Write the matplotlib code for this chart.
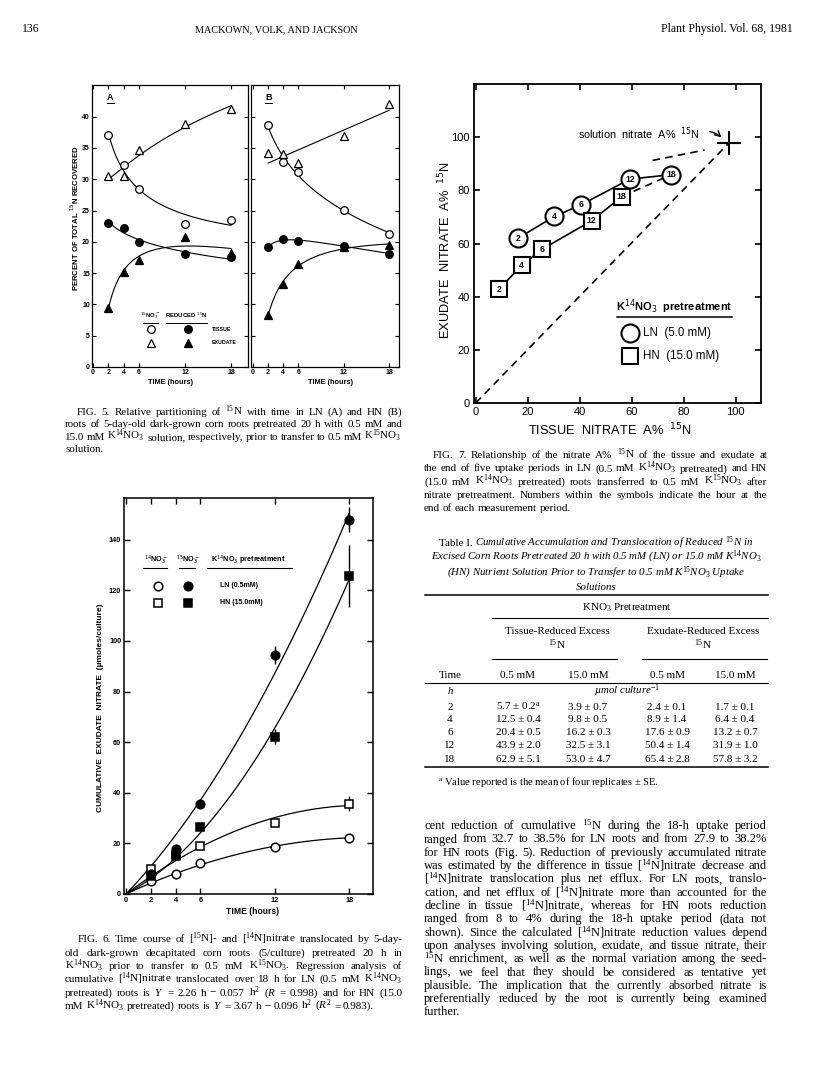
import numpy as np
import matplotlib
matplotlib.use('Agg')
import matplotlib.pyplot as plt
from matplotlib.lines import Line2D

W, H, DPI = 816, 1073, 100
plt.rcParams['mathtext.fontset'] = 'custom'
plt.rcParams['mathtext.rm'] = 'Liberation Serif'
plt.rcParams['mathtext.it'] = 'Liberation Serif:italic'
plt.rcParams['mathtext.bf'] = 'Liberation Serif:bold'
plt.rcParams['mathtext.sf'] = 'Liberation Sans'
plt.rcParams['font.family'] = ['Liberation Sans', 'DejaVu Sans']
SERIF = 'Liberation Serif'
SANS = 'Liberation Sans'

# ---------------- data: Fig. 5 (percent of total 15N recovered) ----------------
time_h = [2, 4, 6, 12, 18]
a_no3_tissue = [37.0, 32.3, 28.4, 22.9, 23.5]
a_no3_exudate = [30.5, 30.5, 34.7, 38.9, 41.3]
a_red_tissue = [23.0, 22.2, 19.9, 18.0, 17.5]
a_red_exudate = [9.5, 15.2, 17.1, 20.7, 18.2]
b_no3_tissue = [38.6, 32.8, 31.2, 25.1, 21.3]
b_no3_exudate = [34.2, 34.0, 32.6, 36.9, 42.1]
b_red_tissue = [19.2, 20.4, 20.1, 19.4, 18.1]
b_red_exudate = [8.3, 13.3, 16.4, 19.1, 19.5]
fig5_xticks = [0, 2, 4, 6, 12, 18]
fig5_yticks = [0, 5, 10, 15, 20, 25, 30, 35, 40]

# ---------------- data: Fig. 6 (cumulative exudate nitrate) ----------------
ln_14no3 = [5.0, 8.0, 12.2, 18.6, 22.2]
hn_14no3 = [10.0, 15.0, 19.0, 28.2, 35.7]
hn_14no3_err = [0, 0, 0, 0, 3.0]
ln_15no3 = [8.0, 17.8, 35.5, 94.5, 148.0]
ln_15no3_err = [0, 1.5, 0, 3.5, 5.0]
hn_15no3 = [7.0, 15.5, 26.3, 62.2, 125.8]
hn_15no3_err = [0, 1.5, 0, 3.0, 12.2]
ln_14_coef = [2.26, -0.057]   # Y = 2.26 h - 0.057 h^2
hn_14_coef = [3.67, -0.096]   # Y = 3.67 h - 0.096 h^2
fig6_xticks = [0, 2, 4, 6, 12, 18]
fig6_yticks = [0, 20, 40, 60, 80, 100, 120, 140]

# ---------------- data: Fig. 7 (nitrate A% 15N) ----------------
ln_tissue_a = [16.2, 30.3, 40.5, 59.4, 75.1]
ln_exudate_a = [62.0, 70.2, 74.6, 84.3, 85.9]
hn_tissue_a = [9.0, 17.7, 25.6, 44.6, 56.2]
hn_exudate_a = [42.9, 51.8, 57.9, 68.6, 77.7]
solution_a = [97.5, 98.0]
ln_extrap_x = [68.0, 88.0]
ln_extrap_y = [91.3, 95.2]
fig7_ticks = [0, 20, 40, 60, 80, 100]

# ---------------- data: Table I ----------------
table_time = [2, 4, 6, 12, 18]
tissue_05 = [5.7, 12.5, 20.4, 43.9, 62.9]
tissue_05_se = [0.2, 0.4, 0.5, 2.0, 5.1]
tissue_15 = [3.9, 9.8, 16.2, 32.5, 53.0]
tissue_15_se = [0.7, 0.5, 0.3, 3.1, 4.7]
exud_05 = [2.4, 8.9, 17.6, 50.4, 65.4]
exud_05_se = [0.1, 1.4, 0.9, 1.4, 2.8]
exud_15 = [1.7, 6.4, 13.2, 31.9, 57.8]
exud_15_se = [0.1, 0.4, 0.7, 1.0, 3.2]

# ============================================================
fig = plt.figure(figsize=(W / DPI, H / DPI), dpi=DPI)
fig.patch.set_facecolor('white')
R = fig.canvas.get_renderer()


def rect(l, t, r, b):
    return [l / W, 1 - b / H, (r - l) / W, (b - t) / H]


def put(x, y, s, **kw):
    return fig.text(x / W, 1 - y / H, s, **kw)


def tw(s, **kw):
    t = fig.text(0, 0, s, **kw)
    w = t.get_window_extent(renderer=R).width
    t.remove()
    return w


def para(lines, x_first, x_left, x_right, y0, dy, size, justify_last=False):
    kw = dict(fontsize=size, family=SERIF)
    sp = tw('x x', **kw) - tw('xx', **kw)
    for i, line in enumerate(lines):
        x0 = x_first if i == 0 else x_left
        y = y0 + i * dy + 3.2
        words = line.split(' ')
        widths = [tw(w, **kw) for w in words]
        last = (i == len(lines) - 1) and not justify_last
        if last or len(words) == 1:
            gap = sp
        else:
            gap = (x_right - x0 - sum(widths)) / (len(words) - 1)
        x = x0
        for w, wd in zip(words, widths):
            put(x, y, w, ha='left', va='baseline', **kw)
            x += wd + gap


def style_ticks(ax, size, weight='bold'):
    for lab in ax.get_xticklabels() + ax.get_yticklabels():
        lab.set_fontsize(size)
        lab.set_fontweight(weight)
        lab.set_family(SANS)


def ln_fit(t, y, deg=2):
    t = np.asarray(t, float)
    p = np.polyfit(np.log(t), y, deg)
    tt = np.linspace(t.min(), t.max(), 200)
    return tt, np.polyval(p, np.log(tt))


def lin_fit(t, y):
    t = np.asarray(t, float)
    p = np.polyfit(t, y, 1)
    tt = np.linspace(t.min(), t.max(), 50)
    return tt, np.polyval(p, tt)


# ---------------- header ----------------
put(22, 32, '136', fontsize=8.5, family=SERIF, va='baseline')
put(195, 32, 'MACKOWN, VOLK, AND JACKSON', fontsize=7.4, family=SERIF, va='baseline')
put(793, 32, 'Plant Physiol. Vol. 68, 1981', fontsize=8.5, family=SERIF, va='baseline', ha='right')

# ---------------- Fig. 5 ----------------
mk = dict(ms=5.5, mec='black', mew=0.9, ls='none', zorder=5)


def fig5_panel(r, xlim, nt, ne, rt, re, exud_linear, letter, ylabels):
    ax = fig.add_axes(r)
    ax.set_xlim(*xlim)
    ax.set_ylim(0, 45.06)
    ax.set_xticks(fig5_xticks)
    ax.set_yticks(fig5_yticks)
    ax.tick_params(direction='in', length=3, width=0.8, top=True, right=True, pad=1.5)
    if not ylabels:
        ax.set_yticklabels([])
    style_ticks(ax, 5.0)
    for s in ax.spines.values():
        s.set_linewidth(0.9)
    lw = 0.8
    ax.plot(*ln_fit(time_h, nt), color='k', lw=lw)
    if exud_linear:
        ax.plot(*lin_fit(time_h, ne), color='k', lw=lw)
    else:
        ax.plot(*ln_fit(time_h, ne), color='k', lw=lw)
    ax.plot(*ln_fit(time_h, rt), color='k', lw=lw)
    ax.plot(*ln_fit(time_h, re), color='k', lw=lw)
    ax.plot(time_h, nt, marker='o', mfc='white', **mk)
    ax.plot(time_h, ne, marker='^', mfc='white', **mk)
    ax.plot(time_h, rt, marker='o', mfc='black', **mk)
    ax.plot(time_h, re, marker='^', mfc='black', **mk)
    ax.text(0.118, 0.955, letter, transform=ax.transAxes, ha='center', va='center',
            fontsize=6.5, fontweight='bold')
    ax.plot([0.095, 0.14], [0.936, 0.936], transform=ax.transAxes, color='k', lw=0.7)
    return ax


axA = fig5_panel(rect(92, 85, 248, 367), (-0.13, 20.2), a_no3_tissue, a_no3_exudate,
                 a_red_tissue, a_red_exudate, False, 'A', True)
axB = fig5_panel(rect(251, 85, 399, 367), (-0.26, 19.3), b_no3_tissue, b_no3_exudate,
                 b_red_tissue, b_red_exudate, True, 'B', False)

# legend in panel A
T = axA.transAxes
axA.text(0.372, 0.184, r'$^{15}$NO$_3^-$', transform=T, ha='center', va='center',
         fontsize=4.3, fontweight='bold', math_fontfamily='dejavusans')
axA.text(0.607, 0.184, r'REDUCED $^{15}$N', transform=T, ha='center', va='center',
         fontsize=4.3, fontweight='bold', math_fontfamily='dejavusans')
axA.plot([0.327, 0.423], [0.155, 0.155], transform=T, color='k', lw=0.7)
axA.plot([0.474, 0.737], [0.155, 0.155], transform=T, color='k', lw=0.7)
axA.plot([0.376], [0.134], transform=T, marker='o', mfc='white', **mk)
axA.plot([0.613], [0.134], transform=T, marker='o', mfc='black', **mk)
axA.plot([0.376], [0.086], transform=T, marker='^', mfc='white', **mk)
axA.plot([0.613], [0.086], transform=T, marker='^', mfc='black', **mk)
axA.text(0.767, 0.134, 'TISSUE', transform=T, va='center', fontsize=3.8, fontweight='bold')
axA.text(0.767, 0.086, 'EXUDATE', transform=T, va='center', fontsize=3.8, fontweight='bold')

put(75, 218, r'PERCENT OF TOTAL $^{15}$N RECOVERED', rotation=90, ha='center', va='center',
    fontsize=5.6, fontweight='bold', math_fontfamily='dejavusans')
put(170, 382, 'TIME (hours)', ha='center', va='center', fontsize=5.3, fontweight='bold')
put(330, 382, 'TIME (hours)', ha='center', va='center', fontsize=5.3, fontweight='bold')

para(['FIG. 5. Relative partitioning of $^{15}$N with time in LN (A) and HN (B)',
      'roots of 5-day-old dark-grown corn roots pretreated 20 h with 0.5 mM and',
      '15.0 mM K$^{14}$NO$_3$ solution, respectively, prior to transfer to 0.5 mM K$^{15}$NO$_3$',
      'solution.'], 77, 65, 402, 412, 12.3, 7.9)

# ---------------- Fig. 6 ----------------
ax6 = fig.add_axes(rect(124, 498, 373, 894))
ax6.set_xlim(-0.16, 19.9)
ax6.set_ylim(0, 156.5)
ax6.set_xticks(fig6_xticks)
ax6.set_yticks(fig6_yticks)
ax6.tick_params(direction='in', length=4, width=1.0, top=True, right=True, pad=2)
style_ticks(ax6, 5.3)
for s in ax6.spines.values():
    s.set_linewidth(1.1)

th = np.asarray(time_h, float)
tt = np.linspace(0, 18, 200)
ax6.plot(tt, ln_14_coef[0] * tt + ln_14_coef[1] * tt ** 2, color='k', lw=0.9)
ax6.plot(tt, hn_14_coef[0] * tt + hn_14_coef[1] * tt ** 2, color='k', lw=0.9)
A2 = np.column_stack([th, th ** 2])
c_ln15 = np.linalg.lstsq(A2, np.asarray(ln_15no3), rcond=None)[0]
c_hn15 = np.linalg.lstsq(A2, np.asarray(hn_15no3), rcond=None)[0]
ax6.plot(tt, c_ln15[0] * tt + c_ln15[1] * tt ** 2, color='k', lw=0.9)
ax6.plot(tt, c_hn15[0] * tt + c_hn15[1] * tt ** 2, color='k', lw=0.9)

mk6 = dict(ms=6.2, mec='black', mew=1.1, ls='none', zorder=5, ecolor='black', elinewidth=1.0, capsize=0)
ax6.errorbar(time_h, ln_14no3, marker='o', mfc='white', **mk6)
ax6.errorbar(time_h, hn_14no3, yerr=hn_14no3_err, marker='s', mfc='white', **mk6)
ax6.errorbar(time_h, hn_15no3, yerr=hn_15no3_err, marker='s', mfc='black', **mk6)
ax6.errorbar(time_h, ln_15no3, yerr=ln_15no3_err, marker='o', mfc='black', **mk6)

T6 = ax6.transAxes
mk6l = dict(ms=6.2, mec='black', mew=1.1, ls='none', transform=T6)
ax6.text(0.129, 0.843, r'$^{14}$NO$_3^-$', transform=T6, ha='center', va='center',
         fontsize=5.2, fontweight='bold', math_fontfamily='dejavusans')
ax6.text(0.257, 0.843, r'$^{15}$NO$_3^-$', transform=T6, ha='center', va='center',
         fontsize=5.2, fontweight='bold', math_fontfamily='dejavusans')
ax6.text(0.5, 0.843, r'K$^{14}$NO$_3$ pretreatment', transform=T6, ha='center', va='center',
         fontsize=5.2, fontweight='bold', math_fontfamily='dejavusans')
for x0, x1 in [(0.076, 0.173), (0.221, 0.285), (0.333, 0.675)]:
    ax6.plot([x0, x1], [0.823, 0.823], transform=T6, color='k', lw=0.8)
ax6.plot([0.137], [0.778], marker='o', mfc='white', **mk6l)
ax6.plot([0.257], [0.778], marker='o', mfc='black', **mk6l)
ax6.plot([0.137], [0.735], marker='s', mfc='white', **mk6l)
ax6.plot([0.257], [0.735], marker='s', mfc='black', **mk6l)
ax6.text(0.386, 0.778, 'LN (0.5mM)', transform=T6, va='center', fontsize=5.0, fontweight='bold')
ax6.text(0.386, 0.735, 'HN (15.0mM)', transform=T6, va='center', fontsize=5.0, fontweight='bold')

put(101, 708, 'CUMULATIVE  EXUDATE  NITRATE  (µmoles/culture)', rotation=90, ha='center',
    va='center', fontsize=6.0, fontweight='bold')
put(252, 912, 'TIME (hours)', ha='center', va='center', fontsize=6.2, fontweight='bold')

para(['FIG. 6. Time course of [$^{15}$N]- and [$^{14}$N]nitrate translocated by 5-day-',
      'old dark-grown decapitated corn roots (5/culture) pretreated 20 h in',
      'K$^{14}$NO$_3$ prior to transfer to 0.5 mM K$^{15}$NO$_3$. Regression analysis of',
      'cumulative [$^{14}$N]nitrate translocated over 18 h for LN (0.5 mM K$^{14}$NO$_3$',
      r'pretreated) roots is $\mathit{Y}$ = 2.26 h − 0.057 h$^2$ ($\mathit{R}$ = 0.998) and for HN (15.0',
      r'mM K$^{14}$NO$_3$ pretreated) roots is $\mathit{Y}$ = 3.67 h − 0.096 h$^2$ ($\mathit{R}^2$ = 0.983).'],
     78, 65, 402, 939, 13.35, 8.0)

# ---------------- Fig. 7 ----------------
ax7 = fig.add_axes(rect(474, 84, 761, 403))
ax7.set_xlim(-0.65, 109.7)
ax7.set_ylim(0, 120.06)
ax7.set_xticks(fig7_ticks)
ax7.set_yticks(fig7_ticks)
ax7.tick_params(direction='in', length=4.5, width=1.2, top=True, right=True, pad=3)
style_ticks(ax7, 8.0, weight='normal')
for s in ax7.spines.values():
    s.set_linewidth(1.3)

dash = dict(color='k', lw=1.2, dashes=(4.5, 3.2))
ax7.plot([0, solution_a[0]], [0, solution_a[1]], **dash)
ax7.plot([hn_tissue_a[-1], ln_tissue_a[-1]], [hn_exudate_a[-1], ln_exudate_a[-1]], **dash)
ax7.plot(ln_extrap_x, ln_extrap_y, **dash)
ax7.plot(ln_tissue_a, ln_exudate_a, color='k', lw=1.2)
ax7.plot(hn_tissue_a, hn_exudate_a, color='k', lw=1.2)
ax7.plot(ln_tissue_a, ln_exudate_a, ls='none', marker='o', ms=13, mfc='white', mec='k', mew=1.5, zorder=5)
ax7.plot(hn_tissue_a, hn_exudate_a, ls='none', marker='s', ms=11.5, mfc='white', mec='k', mew=1.5, zorder=5)
for x, y, t in zip(ln_tissue_a, ln_exudate_a, time_h):
    ax7.text(x, y, str(t), ha='center', va='center', fontsize=6.3, fontweight='bold', zorder=6)
for x, y, t in zip(hn_tissue_a, hn_exudate_a, time_h):
    ax7.text(x, y, str(t), ha='center', va='center', fontsize=6.3, fontweight='bold', zorder=6)
ax7.plot([solution_a[0]], [solution_a[1]], marker='+', ms=17, mew=1.5, color='k', zorder=6)

T7 = ax7.transAxes
ax7.text(0.363, 0.845, r'solution  nitrate  A%  $^{15}$N', transform=T7, ha='left', va='center',
         fontsize=7.8, math_fontfamily='dejavusans')
ax7.annotate('', xy=(0.869, 0.826), xytext=(0.812, 0.852), xycoords=T7, textcoords=T7,
             arrowprops=dict(arrowstyle='->', lw=1.0, color='k', connectionstyle='arc3,rad=-0.2'))
ax7.text(0.698, 0.302, r'K$^{14}$NO$_3$  pretreatment', transform=T7, ha='center', va='center',
         fontsize=8.0, fontweight='bold', math_fontfamily='dejavusans')
ax7.plot([0.497, 0.898], [0.269, 0.269], transform=T7, color='k', lw=1.1)
ax7.plot([0.544], [0.218], transform=T7, marker='o', ms=13, mfc='white', mec='k', mew=1.5)
ax7.plot([0.544], [0.147], transform=T7, marker='s', ms=11.5, mfc='white', mec='k', mew=1.5)
ax7.text(0.59, 0.218, 'LN  (5.0 mM)', transform=T7, va='center', fontsize=8.3)
ax7.text(0.59, 0.147, 'HN  (15.0 mM)', transform=T7, va='center', fontsize=8.3)

put(445, 250, r'EXUDATE  NITRATE  A%  $^{15}$N', rotation=90, ha='center', va='center',
    fontsize=9.2, math_fontfamily='dejavusans')
put(610, 430, r'TISSUE  NITRATE  A%  $^{15}$N', ha='center', va='center',
    fontsize=9.2, math_fontfamily='dejavusans')

para(['FIG. 7. Relationship of the nitrate A% $^{15}$N of the tissue and exudate at',
      'the end of five uptake periods in LN (0.5 mM K$^{14}$NO$_3$ pretreated) and HN',
      '(15.0 mM K$^{14}$NO$_3$ pretreated) roots transferred to 0.5 mM K$^{15}$NO$_3$ after',
      'nitrate pretreatment. Numbers within the symbols indicate the hour at the',
      'end of each measurement period.'], 433, 424, 767, 455, 13.3, 8.0)

# ---------------- Table I ----------------
tkw = dict(fontsize=8.0, family=SERIF)
ikw = dict(fontsize=7.8, family=SERIF, fontstyle='italic')
cx = 596
w1 = tw('Table I. ', **tkw)
rest1 = 'Cumulative Accumulation and Translocation of Reduced $^{15}$N in'
w2 = tw(rest1, **ikw)
x0 = cx - (w1 + w2) / 2
put(x0, 546, 'Table I. ', ha='left', va='baseline', **tkw)
put(x0 + w1, 546, rest1, ha='left', va='baseline', **ikw)
put(cx, 560, 'Excised Corn Roots Pretreated 20 h with 0.5 mM (LN) or 15.0 mM K$^{14}$NO$_3$',
    ha='center', va='baseline', **ikw)
put(cx, 576, '(HN) Nutrient Solution Prior to Transfer to 0.5 mM K$^{15}$NO$_3$ Uptake',
    ha='center', va='baseline', **ikw)
put(cx, 590, 'Solutions', ha='center', va='baseline', **ikw)


def hline(y, x0, x1, lw=0.8):
    fig.add_artist(Line2D([x0 / W, x1 / W], [1 - y / H, 1 - y / H], color='k', lw=lw,
                          transform=fig.transFigure))


hline(595, 425, 768, 1.1)
put(627, 610, 'KNO$_3$ Pretreatment', ha='center', va='baseline', **tkw)
hline(618, 492, 768)
put(557, 634.5, 'Tissue-Reduced Excess', ha='center', va='baseline', **tkw)
put(557, 648.5, '$^{15}$N', ha='center', va='baseline', **tkw)
put(703, 634.5, 'Exudate-Reduced Excess', ha='center', va='baseline', **tkw)
put(703, 648.5, '$^{15}$N', ha='center', va='baseline', **tkw)
hline(659, 492, 617)
hline(659, 642, 767)
col_x = [450, 518, 588, 667, 735]
put(col_x[0], 678, 'Time', ha='center', va='baseline', **tkw)
for xc, lab in zip(col_x[1:], ['0.5 mM', '15.0 mM', '0.5 mM', '15.0 mM']):
    put(xc, 678, lab, ha='center', va='baseline', **tkw)
hline(683, 425, 768)
put(col_x[0], 694, 'h', ha='center', va='baseline', **ikw)
put(627, 694, 'µmol culture$^{-1}$', ha='center', va='baseline', **ikw)
row_y = [709.5, 722.5, 735, 748, 761.5]
for i, y in enumerate(row_y):
    put(col_x[0], y, str(table_time[i]), ha='center', va='baseline', **tkw)
    cols = [(tissue_05, tissue_05_se), (tissue_15, tissue_15_se),
            (exud_05, exud_05_se), (exud_15, exud_15_se)]
    for j, (m, se) in enumerate(cols):
        s = f'{m[i]:.1f} ± {se[i]:.1f}'
        if i == 0 and j == 0:
            s += r'$^{\mathrm{a}}$'
        put(col_x[j + 1], y, s, ha='center', va='baseline', **tkw)
hline(767, 425, 768, 1.1)
put(438, 785, r'$^{\mathrm{a}}$ Value reported is the mean of four replicates ± SE.',
    ha='left', va='baseline', fontsize=7.6, family=SERIF)

# ---------------- body text (right column) ----------------
para(['cent reduction of cumulative $^{15}$N during the 18-h uptake period',
      'ranged from 32.7 to 38.5% for LN roots and from 27.9 to 38.2%',
      'for HN roots (Fig. 5). Reduction of previously accumulated nitrate',
      'was estimated by the difference in tissue [$^{14}$N]nitrate decrease and',
      '[$^{14}$N]nitrate translocation plus net efflux. For LN roots, translo-',
      'cation, and net efflux of [$^{14}$N]nitrate more than accounted for the',
      'decline in tissue [$^{14}$N]nitrate, whereas for HN roots reduction',
      'ranged from 8 to 4% during the 18-h uptake period (data not',
      'shown). Since the calculated [$^{14}$N]nitrate reduction values depend',
      'upon analyses involving solution, exudate, and tissue nitrate, their',
      '$^{15}$N enrichment, as well as the normal variation among the seed-',
      'lings, we feel that they should be considered as tentative yet',
      'plausible. The implication that the currently absorbed nitrate is',
      'preferentially reduced by the root is currently being examined',
      'further.'], 424, 424, 767, 826, 13.3, 9.0)

fig.savefig('out.png', dpi=DPI, facecolor='white')
